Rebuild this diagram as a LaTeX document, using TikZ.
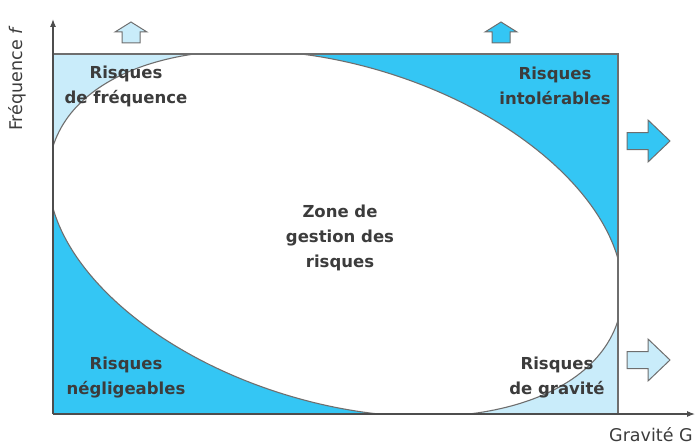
\documentclass[tikz,border=0pt]{standalone}
\usepackage{fontspec}
\setmainfont{DejaVu Sans}
\usetikzlibrary{arrows.meta}
\definecolor{darkc}{HTML}{34C6F4}
\definecolor{lightc}{HTML}{C9ECFA}
\definecolor{edgec}{HTML}{6E6E6E}
\definecolor{txtc}{HTML}{3C3C3C}
\begin{document}
\begin{tikzpicture}[x=1pt,y=-1pt,
  lbl/.style={font=\fontsize{16.5}{25}\selectfont\bfseries, text=txtc, align=center, inner sep=0pt},
  axislbl/.style={font=\fontsize{17.5}{20}\selectfont, text=txtc, inner sep=0pt},
  blockarrow/.style={draw=edgec, line width=1pt, line join=miter}]
\useasboundingbox (0,0) rectangle (696,444);
\coordinate (c) at (335.5,233.5);
% quadrants
\fill[darkc] (53,54) rectangle (618,414);
\fill[lightc] (53,54) -- (240,54) -- (c) -- (53,180) -- cycle;
\fill[lightc] (618,414) -- (431,414) -- (c) -- (618,287) -- cycle;
\begin{scope}
  \clip (53,54) rectangle (618,414);
  \fill[white, rotate around={-16.95:(c)}] (c) ellipse [x radius=295.6pt, y radius=168.8pt];
  \draw[edgec, line width=1.1pt, rotate around={-16.95:(c)}] (c) ellipse [x radius=295.6pt, y radius=168.8pt];
\end{scope}
% frame
\draw[edgec, line width=1.1pt] (53,54) -- (618,54) -- (618,414);
% axes
\coordinate (o) at (53,414);
\coordinate (ytip) at (53,19);
\coordinate (xtip) at (695,414);
\draw[edgec!70!black, line width=1.1pt, -{Latex[length=8pt,width=6pt]}] (o) -- (ytip);
\draw[edgec!70!black, line width=1.1pt, -{Latex[length=8pt,width=6pt]}] (o) -- (xtip);
\node[axislbl, rotate=90, anchor=center] (fy) at (17,78.5) {Fréquence \textit{f}};
\node[axislbl, anchor=base west] (gx) at (609,441) {Gravité G};
% block arrows
\filldraw[blockarrow, fill=lightc] (122,43) -- (122,32) -- (115,32) -- (131,22) -- (147,32) -- (140,32) -- (140,43) -- cycle;
\filldraw[blockarrow, fill=darkc] (492,43) -- (492,32) -- (485,32) -- (501,22) -- (517,32) -- (510,32) -- (510,43) -- cycle;
\filldraw[blockarrow, fill=darkc] (627,132.5) -- (648,132.5) -- (648,120) -- (670,141) -- (648,162) -- (648,149.5) -- (627,149.5) -- cycle;
\filldraw[blockarrow, fill=lightc] (627,351.5) -- (648,351.5) -- (648,339) -- (670,360) -- (648,381) -- (648,368.5) -- (627,368.5) -- cycle;
% labels
\node[lbl] (freq) at (126,86) {Risques\\de fréquence};
\node[lbl] (intol) at (555,86) {Risques\\intolérables};
\node[lbl] (zone) at (340,238) {Zone de\\gestion des\\risques};
\node[lbl] (negl) at (126,378) {Risques\\négligeables};
\node[lbl] (grav) at (557,378) {Risques\\de gravité};
\end{tikzpicture}
\end{document}
